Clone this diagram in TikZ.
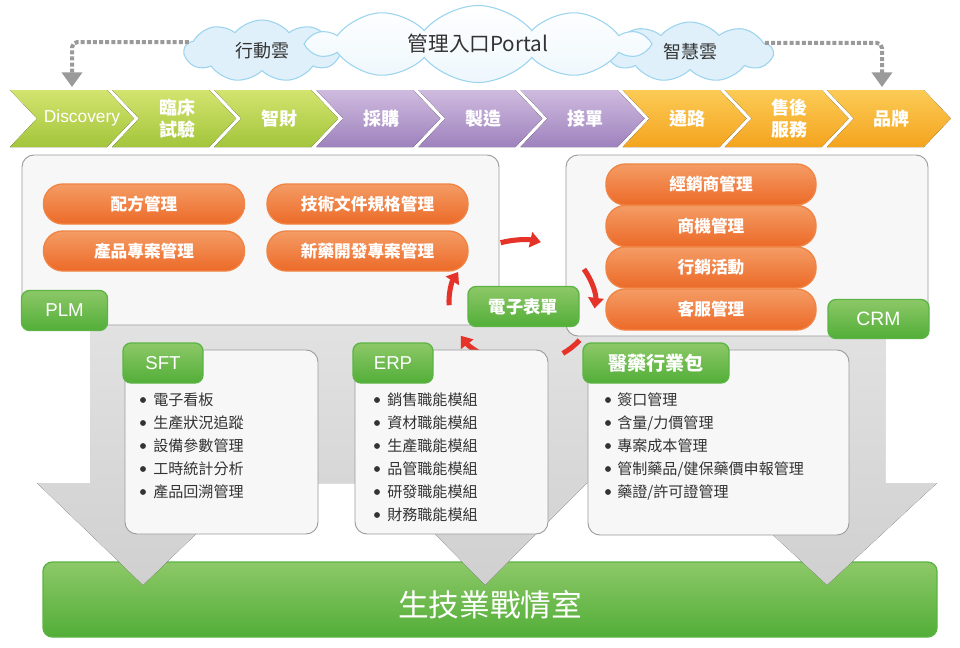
\documentclass[tikz,border=0pt]{standalone}
\usepackage{fontspec}
\setmainfont{Liberation Sans}
\newfontfamily\cjk{Noto Sans CJK TC}
\usepackage{tikz}
\usetikzlibrary{positioning,arrows.meta,calc,shapes.symbols}
\definecolor{limeT}{HTML}{D3E46F}
\definecolor{limeB}{HTML}{A3C53B}
\definecolor{plumT}{HTML}{CFBBDF}
\definecolor{plumB}{HTML}{9E82BD}
\definecolor{amberT}{HTML}{FCCB56}
\definecolor{amberB}{HTML}{F4A41E}
\definecolor{tagT}{HTML}{8DC868}
\definecolor{tagB}{HTML}{52AE38}
\definecolor{tagline}{HTML}{5BB444}
\definecolor{pillT}{HTML}{F49C65}
\definecolor{pillB}{HTML}{EC6A28}
\definecolor{pillline}{HTML}{F08444}
\definecolor{panelfill}{HTML}{F7F7F7}
\definecolor{panelline}{HTML}{9C9C9C}
\definecolor{itemtext}{HTML}{333333}
\definecolor{flowred}{HTML}{E63329}
\definecolor{guidegray}{HTML}{9A9A9A}
\definecolor{skyfill}{HTML}{DFF0FA}
\definecolor{skyline}{HTML}{9BD4EE}
\definecolor{shade}{HTML}{E2E2E2}

\begin{document}
\begin{tikzpicture}[x=0.75pt,y=-0.75pt,
wh/.style 2 args={minimum width=#1*0.75pt,minimum height=#2*0.75pt},
panel/.style={draw=panelline,fill=panelfill,rounded corners=9pt,line width=0.7pt,inner sep=0pt},
tag/.style={draw=tagline,top color=tagT,bottom color=tagB,rounded corners=6pt,line width=1pt,text=white,inner sep=0pt},
pill/.style={draw=pillline,top color=pillT,bottom color=pillB,rounded corners=14.5pt,line width=1pt,text=white,inner sep=0pt,font=\cjk\bfseries\fontsize{12.5}{14}\selectfont},
chevtxt/.style={text=white,align=center,inner sep=0pt,font=\cjk\bfseries\fontsize{13.5}{17}\selectfont},
sky/.style={cloud,cloud puffs=9,cloud puff arc=100,cloud ignores aspect,draw=skyline,line width=0.8pt,inner sep=0pt,text=itemtext},
item/.style={anchor=west,inner sep=0pt,text=itemtext,font=\cjk\fontsize{11.3}{13}\selectfont},
flow/.style={draw=flowred,line width=3.8pt,-{Triangle[width=11.5pt,length=8pt]}},
guide/.style={draw=guidegray,line width=3pt,dash pattern=on 3pt off 1.6pt,rounded corners=4pt,-{Triangle[width=15pt,length=11pt]}}]
\fill[white] (0,0) rectangle (960,647);
\useasboundingbox (0,0) rectangle (960,647);

\node[tag,wh={894}{75},rounded corners=7pt] (room) at (490,599.5) {};
\fill[top color=shade,bottom color=shade!92!black] (90,320) -- (885,320) -- (885,483) -- (937,483) -- (827,585) -- (717,483)
  -- (587,483) -- (485,585) -- (385,483) -- (249,483) -- (143,585) -- (37,483) -- (90,483) -- cycle;

% value chain
\foreach \k/\dx/\tone/\lab in {0/72/lime/{\normalfont\fontsize{13}{15}\selectfont Discovery},1/65/lime/{臨床\\試驗},2/65/lime/智財,
  3/65/plum/採購,4/65/plum/製造,5/65/plum/接單,6/65/amber/通路,7/65/amber/{售後\\服務},8/65/amber/品牌}{
  \pgfmathsetmacro\xa{10+102.1*\k}
  \fill[top color=\tone T,bottom color=\tone B] (\xa,90) -- ++(97,0) -- ++(27,28.5) -- ++(-27,28.5) -- ++(-97,0) -- ++(27,-28.5) -- cycle;
  \node[chevtxt] (ch\k) at (\xa+\dx,118.5) {\lab};
}

\node[sky,fill=skyfill,wh={155}{62},font=\cjk\fontsize{13.5}{15}\selectfont] (mob) at (262,51) {行動雲};
\node[sky,fill=skyfill,wh={165}{60},font=\cjk\fontsize{13.5}{15}\selectfont] (smart) at (690,52) {智慧雲};
\node[sky,top color=white,bottom color=skyfill!55,cloud puffs=10,wh={335}{77},font=\cjk\fontsize{15.5}{17}\selectfont] (portal) at (478,44) {管理入口Portal};
\coordinate (dropL) at (72,87);
\coordinate (dropR) at (882,87);
\draw[guide] (mob.173) -| (dropL);
\draw[guide] (smart.7) -| (dropR);

% PLM / CRM
\node[panel,wh={477}{170}] (plm) at (260.5,240) {};
\node[panel,wh={362}{181}] (crm) at (747,245.5) {};
\node[pill,wh={201}{40}] (recipe) at (144,204) {配方管理};
\node[pill,wh={201}{40}] (spec) at (367.5,204) {技術文件規格管理};
\node[pill,wh={201}{40}] (prodproj) at (144,251) {產品專案管理};
\node[pill,wh={201}{40}] (drugproj) at (367.5,251) {新藥開發專案管理};
\node[pill,wh={210}{41}] (dealer) at (711,184.5) {經銷商管理};
\node[pill,wh={210}{41}] (oppo) at (711,226) {商機管理};
\node[pill,wh={210}{41}] (mkt) at (711,267.5) {行銷活動};
\node[pill,wh={210}{41}] (svc) at (711,309.5) {客服管理};
\node[tag,wh={86}{40},font=\fontsize{14}{16}\selectfont] (plmtag) at (64.5,310.5) {PLM};
\node[tag,wh={101}{39},font=\fontsize{14.5}{16}\selectfont] (crmtag) at (878.5,319) {CRM};
\node[tag,wh={111}{40},font=\cjk\bfseries\fontsize{13}{15}\selectfont] (eform) at (523.5,306.5) {電子表單};

\coordinate (hub) at (522,302);
\draw[flow] ($(hub)+(-107:73 and 62)$) arc[start angle=-107,end angle=-75,x radius=73,y radius=62];
\draw[flow] ($(hub)+(-32:73 and 62)$) arc[start angle=-32,end angle=6,x radius=73,y radius=62];
\draw[flow,-] ($(hub)+(38:73 and 62)$) arc[start angle=38,end angle=56,x radius=73,y radius=62];
\draw[flow] ($(hub)+(109:73 and 62)$) arc[start angle=109,end angle=147,x radius=73,y radius=62];
\draw[flow] ($(hub)+(177:73 and 62)$) arc[start angle=177,end angle=209,x radius=73,y radius=62];

% modules
\node[panel,wh={193}{184}] (sft) at (221.5,442) {};
\node[panel,wh={193}{184}] (erp) at (451.5,442) {};
\node[panel,wh={261}{185}] (pharma) at (718.5,442.5) {};
\node[tag,wh={80}{40},font=\fontsize{14}{16}\selectfont] (sfttag) at (163,363) {SFT};
\node[tag,wh={80}{40},font=\fontsize{14}{16}\selectfont] (erptag) at (393,363) {ERP};
\node[tag,wh={146}{40},font=\cjk\bfseries\fontsize{14.3}{16}\selectfont] (pharmatag) at (656,363) {醫藥行業包};
\foreach \t [count=\n] in {電子看板,生產狀況追蹤,設備參數管理,工時統計分析,產品回溯管理}{
  \fill[itemtext] (143,{377+23*\n}) circle (2.2pt);
  \node[item] (sft\n) at (153,{377+23*\n}) {\t};
}
\foreach \t [count=\n] in {銷售職能模組,資材職能模組,生產職能模組,品管職能模組,研發職能模組,財務職能模組}{
  \fill[itemtext] (377,{377+23*\n}) circle (2.2pt);
  \node[item] (erp\n) at (387,{377+23*\n}) {\t};
}
\foreach \t [count=\n] in {簽口管理,含量/力價管理,專案成本管理,管制藥品/健保藥價申報管理,藥證/許可證管理}{
  \fill[itemtext] (608,{377+23*\n}) circle (2.2pt);
  \node[item] (ph\n) at (617,{377+23*\n}) {\t};
}

\node[text=white,inner sep=0pt,font=\cjk\fontsize{23}{26}\selectfont] (roomtxt) at (490,605) {生技業戰情室};
\end{tikzpicture}
\end{document}
